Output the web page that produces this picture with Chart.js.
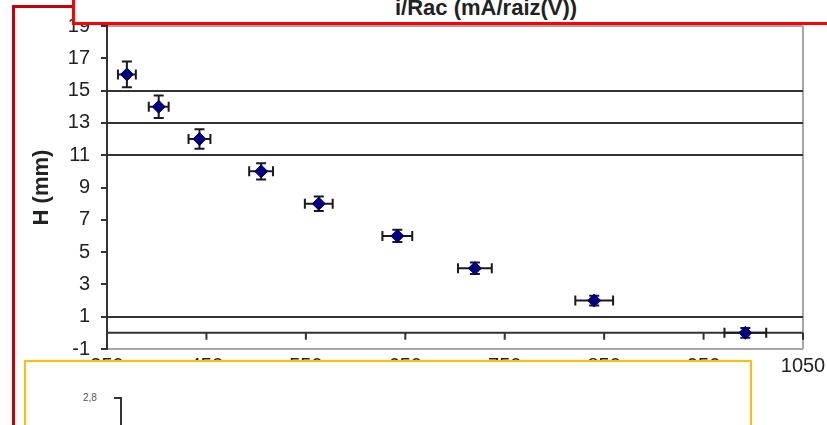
<!DOCTYPE html>
<html>
<head>
<meta charset="utf-8">
<script src="https://cdn.jsdelivr.net/npm/chart.js@4/dist/chart.umd.min.js"></script>
<style>
  body { margin: 0; background: #fff; }
  #wrap { position: relative; width: 827px; height: 425px; overflow: hidden; font-family: "Liberation Sans", Arial, sans-serif; }
  #chart { position: absolute; left: 0; top: 0; }
  .outer-red { position: absolute; left: 12px; top: 5px; width: 900px; height: 500px; border-left: 3px solid #c8000a; border-top: 3px solid #c8000a; }
  .title-box { position: absolute; left: 72px; top: -4px; width: 800px; height: 29px; box-sizing: border-box; background: #fff; border: 3px solid #ff0000; }
  .title-box span { position: absolute; left: 320px; top: -2px; font-weight: bold; font-size: 22px; line-height: 22px; color: #222; white-space: nowrap; }
  .yellow-box { position: absolute; left: 24px; top: 360px; width: 728px; height: 100px; box-sizing: border-box; background: #fff; border: 2px solid #ffc000; }
  .mini { position: absolute; left: 57px; top: 30px; font-size: 10px; color: #555; }
  .mini-tick { position: absolute; left: 88px; top: 35px; width: 8px; height: 2px; background: #333; }
  .mini-axis { position: absolute; left: 94px; top: 35px; width: 2px; height: 80px; background: #333; }
</style>
</head>
<body>
<div id="wrap">
  <canvas id="chart" width="827" height="425"></canvas>
  <div class="outer-red"></div>
  <div class="title-box"><span>i/Rac (mA/raiz(V))</span></div>
  <div class="yellow-box"><span class="mini">2,8</span><div class="mini-tick"></div><div class="mini-axis"></div></div>
</div>
<script>
// i/Rac values (x) and heights H (y), with their error bars
const iRac = [370, 402, 443, 505, 563, 642, 720, 840, 992];
const hMm = [16, 14, 12, 10, 8, 6, 4, 2, 0];
const iRacErr = [9, 10, 11, 12, 14, 15, 17, 19, 21];
const hErr = [0.8, 0.7, 0.6, 0.5, 0.45, 0.38, 0.35, 0.3, 0.3];
const darkGridAt = [15, 13, 11, 1];

const points = iRac.map((v, i) => ({ x: v, y: hMm[i] }));

// x axis crossing at H = 0, with its tick marks
const zeroAxis = {
    id: 'zeroAxis',
    beforeDatasetsDraw(chart) {
        const { ctx, scales: { x, y } } = chart;
        const y0 = y.getPixelForValue(0);
        ctx.save();
        ctx.strokeStyle = '#333';
        ctx.lineWidth = 2;
        ctx.beginPath();
        ctx.moveTo(x.left, y0);
        ctx.lineTo(x.right, y0);
        x.ticks.forEach(t => {
            const px = x.getPixelForValue(t.value);
            ctx.moveTo(px, y0);
            ctx.lineTo(px, y0 + 7);
        });
        ctx.stroke();
        ctx.restore();
    }
};

// error bars in both directions
const errorBars = {
    id: 'errorBars',
    beforeDatasetsDraw(chart) {
        const { ctx, scales: { x, y } } = chart;
        ctx.save();
        ctx.strokeStyle = '#1a1a1a';
        ctx.lineWidth = 2;
        ctx.beginPath();
        points.forEach((p, i) => {
            const cx = x.getPixelForValue(p.x);
            const cy = y.getPixelForValue(p.y);
            const x1 = x.getPixelForValue(p.x - iRacErr[i]);
            const x2 = x.getPixelForValue(p.x + iRacErr[i]);
            const y1 = y.getPixelForValue(p.y + hErr[i]);
            const y2 = y.getPixelForValue(p.y - hErr[i]);
            ctx.moveTo(x1, cy); ctx.lineTo(x2, cy);
            ctx.moveTo(x1, cy - 5); ctx.lineTo(x1, cy + 5);
            ctx.moveTo(x2, cy - 5); ctx.lineTo(x2, cy + 5);
            ctx.moveTo(cx, y1); ctx.lineTo(cx, y2);
            ctx.moveTo(cx - 5, y1); ctx.lineTo(cx + 5, y1);
            ctx.moveTo(cx - 5, y2); ctx.lineTo(cx + 5, y2);
        });
        ctx.stroke();
        ctx.restore();
    }
};

const tickFont = { family: 'Liberation Sans, Arial', size: 20 };

new Chart(document.getElementById('chart'), {
    type: 'scatter',
    data: {
        datasets: [{
            data: points,
            pointStyle: 'rectRot',
            pointRadius: 6.5,
            backgroundColor: '#000080',
            borderColor: '#000080',
            borderWidth: 1
        }]
    },
    options: {
        responsive: false,
        animation: false,
        layout: { padding: { top: 26, right: 24, left: 0, bottom: 0 } },
        plugins: { legend: { display: false }, tooltip: { enabled: false } },
        scales: {
            x: {
                min: 350,
                max: 1050,
                afterFit: (s) => { s.height = 76; s.paddingLeft = 0; s.paddingRight = 0; },
                ticks: { stepSize: 100, font: tickFont, color: '#222', padding: 5, maxRotation: 0, callback: (v) => String(v) },
                grid: {
                    drawTicks: false,
                    lineWidth: 2,
                    color: (c) => c.tick && c.tick.value === 1050 ? '#a6a6a6' : 'transparent'
                },
                border: { display: false }
            },
            y: {
                min: -1,
                max: 19,
                afterFit: (s) => { s.width = 107; s.paddingTop = 0; s.paddingBottom = 0; },
                ticks: { stepSize: 2, font: tickFont, color: '#222', padding: 11, callback: (v) => String(v) },
                grid: {
                    lineWidth: 2,
                    tickLength: 6,
                    tickColor: '#333',
                    color: (c) => {
                        if (!c.tick) return 'transparent';
                        if (darkGridAt.includes(c.tick.value)) return '#333';
                        if (c.tick.value === -1 || c.tick.value === 19) return '#a6a6a6';
                        return 'transparent';
                    }
                },
                border: { display: true, color: '#333', width: 2 },
                title: {
                    display: true,
                    text: 'H (mm)',
                    color: '#222',
                    font: { family: 'Liberation Sans, Arial', size: 22, weight: 'bold' },
                    padding: { top: 29 }
                }
            }
        }
    },
    plugins: [zeroAxis, errorBars]
});
</script>
</body>
</html>
